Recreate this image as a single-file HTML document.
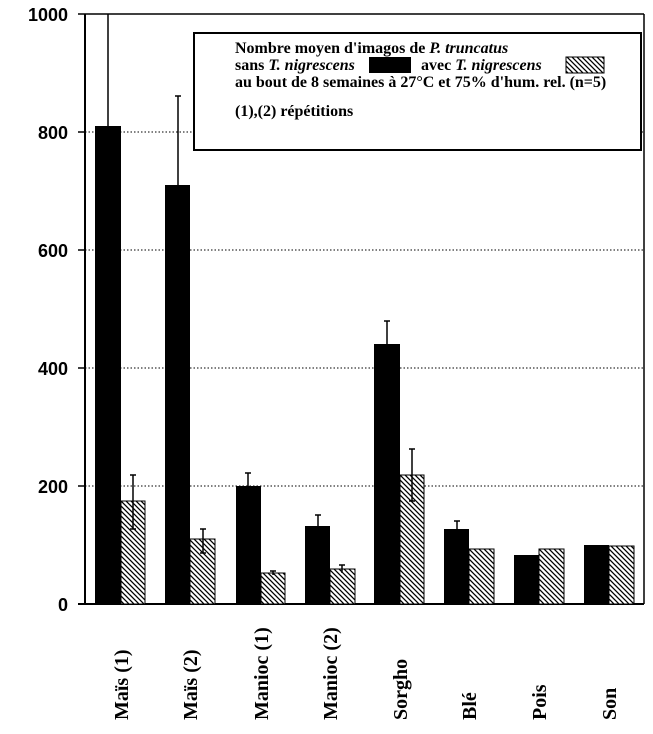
<!DOCTYPE html><html><head><style>body{margin:0;background:#fff}</style></head><body>
<svg width="653" height="729" xmlns="http://www.w3.org/2000/svg">
<defs><pattern id="h" width="5" height="5" patternUnits="userSpaceOnUse"><rect width="5" height="5" fill="#fff"/><path d="M-1,-1 L6,6 M-1,4 L1,6 M4,-1 L6,1" stroke="#000" stroke-width="1.3"/></pattern></defs>
<g stroke="#000" stroke-dasharray="1.5,2" stroke-width="1">
<line x1="85" y1="132" x2="644" y2="132"/><line x1="85" y1="250" x2="644" y2="250"/><line x1="85" y1="368" x2="644" y2="368"/><line x1="85" y1="486" x2="644" y2="486"/></g>
<line x1="78" y1="14" x2="644" y2="14" stroke="#000" stroke-width="1.5"/>
<line x1="644" y1="14" x2="644" y2="604" stroke="#000" stroke-width="1.5"/>
<line x1="85" y1="14" x2="85" y2="604" stroke="#000" stroke-width="2"/>
<line x1="78" y1="604" x2="644" y2="604" stroke="#000" stroke-width="2"/>
<g stroke="#000" stroke-width="1.5"><line x1="78" y1="132" x2="85" y2="132"/><line x1="78" y1="250" x2="85" y2="250"/><line x1="78" y1="368" x2="85" y2="368"/><line x1="78" y1="486" x2="85" y2="486"/></g>
<g font-family="Liberation Sans, sans-serif" font-weight="bold" font-size="18" text-anchor="end">
<text x="68" y="21">1000</text><text x="68" y="139">800</text><text x="68" y="257">600</text><text x="68" y="375">400</text><text x="68" y="493">200</text><text x="68" y="611">0</text></g>
<g stroke="#000" stroke-width="1.5">
<line x1="108" y1="14" x2="108" y2="126"/>
<line x1="178" y1="96" x2="178" y2="185"/><line x1="175" y1="96" x2="181" y2="96"/>
<line x1="248" y1="473" x2="248" y2="486"/><line x1="245" y1="473" x2="251" y2="473"/>
<line x1="318" y1="515" x2="318" y2="526"/><line x1="315" y1="515" x2="321" y2="515"/>
<line x1="387" y1="321" x2="387" y2="344"/><line x1="384" y1="321" x2="390" y2="321"/>
<line x1="457" y1="521" x2="457" y2="529"/><line x1="454" y1="521" x2="460" y2="521"/>
</g>
<g fill="#000">
<rect x="95" y="126" width="26" height="478"/><rect x="165" y="185" width="25" height="419"/>
<rect x="236" y="486" width="25" height="118"/><rect x="305" y="526" width="25" height="78"/>
<rect x="374" y="344" width="26" height="260"/><rect x="444" y="529" width="25" height="75"/>
<rect x="514" y="555" width="25" height="49"/><rect x="584" y="545" width="25" height="59"/></g>
<g fill="url(#h)" stroke="#000" stroke-width="1">
<rect x="121" y="501" width="24" height="103"/><rect x="190" y="539" width="25" height="65"/>
<rect x="261" y="573" width="24" height="31"/><rect x="330" y="569" width="25" height="35"/>
<rect x="400" y="475" width="24" height="129"/><rect x="469" y="549" width="25" height="55"/>
<rect x="539" y="549" width="25" height="55"/><rect x="609" y="546" width="25" height="58"/></g>
<g stroke="#000" stroke-width="1.5">
<line x1="133" y1="475" x2="133" y2="529"/><line x1="130" y1="475" x2="136" y2="475"/><line x1="130" y1="529" x2="136" y2="529"/>
<line x1="203" y1="529" x2="203" y2="553"/><line x1="200" y1="529" x2="206" y2="529"/><line x1="200" y1="553" x2="206" y2="553"/>
<line x1="273" y1="571" x2="273" y2="575"/><line x1="270" y1="571" x2="276" y2="571"/>
<line x1="342" y1="565" x2="342" y2="573"/><line x1="339" y1="565" x2="345" y2="565"/>
<line x1="412" y1="449" x2="412" y2="501"/><line x1="409" y1="449" x2="415" y2="449"/><line x1="409" y1="501" x2="415" y2="501"/>
</g>
<rect x="194" y="33" width="447" height="117" fill="#fff" stroke="#000" stroke-width="2"/>
<g font-family="Liberation Serif, serif" font-weight="bold" font-size="16">
<text x="235" y="53">Nombre moyen d'imagos de <tspan font-style="italic">P. truncatus</tspan></text>
<text x="235" y="70">sans <tspan font-style="italic">T. nigrescens</tspan></text>
<text x="421" y="70">avec <tspan font-style="italic">T. nigrescens</tspan></text>
<text x="235" y="87">au bout de 8 semaines à 27°C et 75% d'hum. rel. (n=5)</text>
<text x="235" y="116">(1),(2) répétitions</text></g>
<rect x="369" y="57" width="42" height="16" fill="#000"/>
<rect x="566" y="57" width="38" height="16" fill="url(#h)" stroke="#000"/>
<g font-family="Liberation Serif, serif" font-weight="bold" font-size="20" text-anchor="start">
<text transform="translate(128,720) rotate(-90)">Maïs (1)</text>
<text transform="translate(197,720) rotate(-90)">Maïs (2)</text>
<text transform="translate(268,720) rotate(-90)">Manioc (1)</text>
<text transform="translate(337,720) rotate(-90)">Manioc (2)</text>
<text transform="translate(407,720) rotate(-90)">Sorgho</text>
<text transform="translate(476,720) rotate(-90)">Blé</text>
<text transform="translate(546,720) rotate(-90)">Pois</text>
<text transform="translate(616,720) rotate(-90)">Son</text></g>
</svg></body></html>
